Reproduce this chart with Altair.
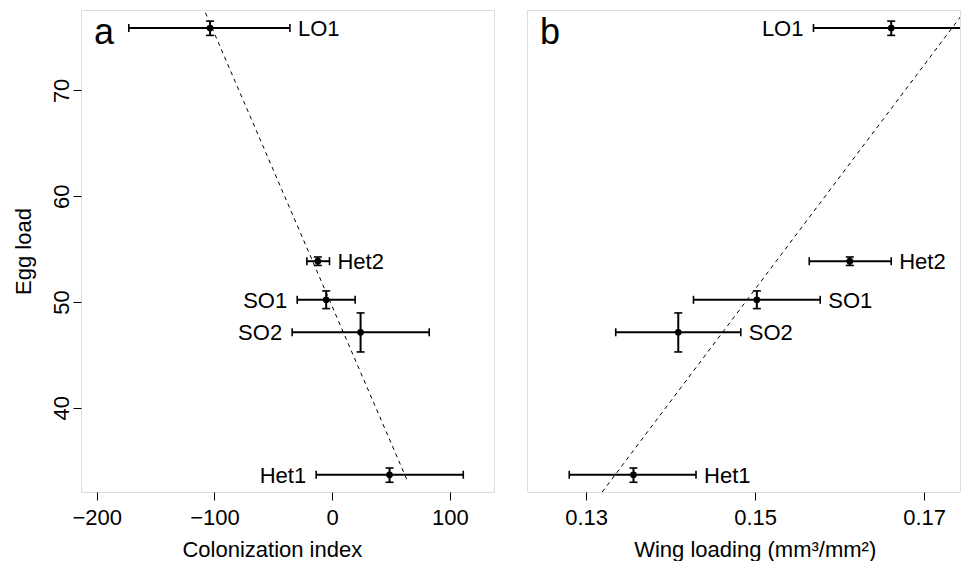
import altair as alt
import pandas as pd

# ---- data ----
pops = ["LO1", "Het2", "SO1", "SO2", "Het1"]
egg = [75.9, 53.85, 50.2, 47.13, 33.66]
egg_lo = [75.2, 53.45, 49.37, 45.27, 32.95]
egg_hi = [76.55, 54.25, 51.04, 48.96, 34.3]

col = [-103.7, -12.2, -5.1, 24.1, 48.7]
col_lo = [-172.7, -21.5, -29.7, -34.0, -13.6]
col_hi = [-35.9, -2.3, 19.5, 82.4, 111.3]

wing = [0.1661, 0.1612, 0.1502, 0.1409, 0.1356]
wing_lo = [0.1569, 0.1564, 0.1427, 0.1335, 0.1280]
wing_hi = [0.1751, 0.1661, 0.1577, 0.1483, 0.1430]

side_a = ["right", "right", "left", "left", "left"]
side_b = ["left", "right", "right", "right", "right"]

line_a_x = [-107.6, 64.3]
line_a_y = [77.34, 32.97]
line_b_x = [0.1319, 0.1749]
line_b_y = [32.03, 77.6]

x_ticks_a = [-200, -100, 0, 100]
x_ticks_b = [0.13, 0.15, 0.17]
y_ticks = [40, 50, 60, 70]

df = pd.DataFrame(dict(pop=pops, egg=egg, egg_lo=egg_lo, egg_hi=egg_hi,
                       col=col, col_lo=col_lo, col_hi=col_hi,
                       wing=wing, wing_lo=wing_lo, wing_hi=wing_hi,
                       side_a=side_a, side_b=side_b))

FONT = "Liberation Sans"
FS = 22
Y_DOMAIN = [32.03, 77.6]
H = 482


def panel(xf, lof, hif, sidef, xdom, xticks, xfmt, xtitle, title_x,
          lx, ly, letter, show_y, width, clip):
    xscale = alt.Scale(domain=xdom, nice=False, zero=False)
    yscale = alt.Scale(domain=Y_DOMAIN, nice=False, zero=False)
    xaxis = alt.Axis(values=xticks, format=xfmt, title=xtitle, titleX=title_x,
                     tickSize=8, labelPadding=7, titlePadding=11,
                     labelFontSize=FS, titleFontSize=FS, labelFont=FONT,
                     titleFont=FONT, titleFontWeight="normal",
                     labelColor="black", titleColor="black", tickColor="black",
                     domain=False, grid=False, labelFlush=False)
    if show_y:
        yaxis = alt.Axis(values=y_ticks, title="Egg load", tickSize=8,
                         labelAngle=270, labelAlign="center", labelBaseline="bottom",
                         labelPadding=0, titlePadding=15,
                         labelFontSize=FS, titleFontSize=FS, labelFont=FONT,
                         titleFont=FONT, titleFontWeight="normal",
                         labelColor="black", titleColor="black", tickColor="black",
                         domain=False, grid=False, labelFlush=False)
    else:
        yaxis = None

    def X(field):
        return alt.X(f"{field}:Q", scale=xscale, axis=xaxis, title=xtitle)

    def Y(field):
        return alt.Y(f"{field}:Q", scale=yscale, axis=yaxis, title="Egg load")

    base = alt.Chart(df)
    line_df = pd.DataFrame({"lx": lx, "ly": ly})
    reg = alt.Chart(line_df).mark_line(color="black", strokeWidth=1,
                                       strokeDash=[4, 4], clip=clip).encode(
        x=X("lx"), y=Y("ly"))
    hbar = base.mark_rule(color="black", strokeWidth=2, clip=clip).encode(
        x=X(lof), x2=f"{hif}:Q", y=Y("egg"))
    vbar = base.mark_rule(color="black", strokeWidth=2, clip=clip).encode(
        x=X(xf), y=Y("egg_lo"), y2="egg_hi:Q")
    cap_l = base.mark_tick(orient="vertical", size=8, thickness=1.6, clip=clip,
                           color="black", opacity=1).encode(x=X(lof), y=Y("egg"))
    cap_r = base.mark_tick(orient="vertical", size=8, thickness=1.6, clip=clip,
                           color="black", opacity=1).encode(x=X(hif), y=Y("egg"))
    cap_b = base.mark_tick(orient="horizontal", size=8, thickness=1.6, clip=clip,
                           color="black", opacity=1).encode(x=X(xf), y=Y("egg_lo"))
    cap_t = base.mark_tick(orient="horizontal", size=8, thickness=1.6, clip=clip,
                           color="black", opacity=1).encode(x=X(xf), y=Y("egg_hi"))
    pts = base.mark_point(filled=True, size=45, color="black", opacity=1).encode(
        x=X(xf), y=Y("egg"))
    lab_r = base.transform_filter(f"datum.{sidef} == 'right'").mark_text(
        align="left", baseline="middle", dx=8, dy=1, font=FONT, fontSize=FS,
        color="black").encode(x=X(hif), y=Y("egg"), text="pop:N")
    lab_l = base.transform_filter(f"datum.{sidef} == 'left'").mark_text(
        align="right", baseline="middle", dx=-10, dy=1, font=FONT, fontSize=FS,
        color="black").encode(x=X(lof), y=Y("egg"), text="pop:N")
    let = alt.Chart(pd.DataFrame({"t": [letter]})).mark_text(
        align="left", baseline="alphabetic", font=FONT, fontSize=36,
        color="black").encode(x=alt.value(13), y=alt.value(34), text="t:N")

    return alt.layer(reg, hbar, vbar, cap_l, cap_r, cap_b, cap_t, pts,
                     lab_r, lab_l, let).properties(width=width, height=H)


pa = panel("col", "col_lo", "col_hi", "side_a", [-213.3, 137.4], x_ticks_a, "d",
           "Colonization index", 190.8, line_a_x, line_a_y, "a", True, 413, False)
pb = panel("wing", "wing_lo", "wing_hi", "side_b", [0.1230, 0.17424], x_ticks_b,
           ".2f", "Wing loading (mm³/mm²)", 227.7, line_b_x, line_b_y, "b",
           False, 433, True)

chart = alt.hconcat(pa, pb, spacing=31).properties(
    padding={"left": 3, "top": 1, "right": 0, "bottom": 0}
).configure_view(stroke="#555555", strokeWidth=1).configure(background="white")

chart.save("out.html", embed_options={"renderer": "svg", "actions": False})
